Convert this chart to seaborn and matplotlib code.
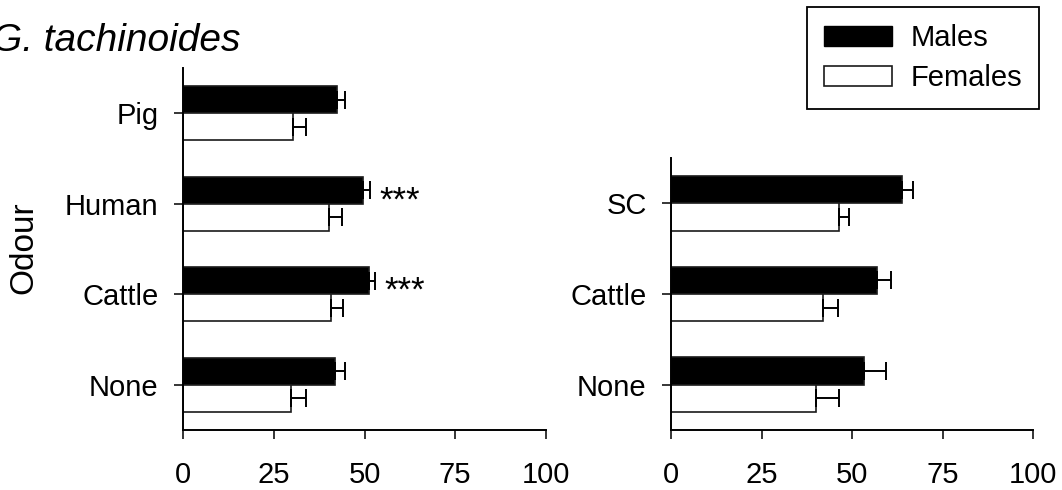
import matplotlib
matplotlib.use("Agg")
import matplotlib.pyplot as plt
from matplotlib.patches import Patch
import seaborn as sns
import pandas as pd

# ---------------- data ----------------
left_odours = ["Pig", "Human", "Cattle", "None"]
left_males = [42.5, 49.5, 51.2, 42.0]
left_males_err = [2.2, 2.1, 1.7, 2.7]
left_females = [30.4, 40.2, 40.7, 29.8]
left_females_err = [3.5, 3.5, 3.5, 4.0]
left_sig = ["", "***", "***", ""]

right_odours = ["SC", "Cattle", "None"]
right_males = [63.9, 56.9, 53.2]
right_males_err = [3.0, 3.9, 6.3]
right_females = [46.3, 41.9, 40.1]
right_females_err = [2.9, 4.2, 6.4]

sexes = ["Males", "Females"]
x_ticks = [0, 25, 50, 75, 100]
title_text = "G. tachinoides"
ylabel_text = "Odour"

# ---------------- style ----------------
sns.set_theme(style="ticks")
plt.rcParams["font.family"] = ["Liberation Sans", "DejaVu Sans"]
plt.rcParams["axes.edgecolor"] = "black"
plt.rcParams["text.color"] = "black"
plt.rcParams["axes.labelcolor"] = "black"
plt.rcParams["xtick.color"] = "black"
plt.rcParams["ytick.color"] = "black"

W, H = 1062, 490
fig = plt.figure(figsize=(W / 100, H / 100), dpi=100)


def fx(px):
    return px / W


def fy(py):
    return 1 - py / H


ax_l = fig.add_axes([fx(183), fy(430), fx(546) - fx(183), fy(68) - fy(430)])
ax_r = fig.add_axes([fx(671), fy(430), fx(1033) - fx(671), fy(158) - fy(430)])


def make_df(odours, males, females):
    return pd.DataFrame({
        "odour": odours * 2,
        "value": males + females,
        "sex": ["Males"] * len(odours) + ["Females"] * len(odours),
    })


def draw(ax, odours, males, males_err, females, females_err, sig=None):
    df = make_df(odours, males, females)
    sns.barplot(data=df, x="value", y="odour", hue="sex", hue_order=sexes,
                order=odours, palette=["black", "white"], orient="h",
                width=0.6, errorbar=None, edgecolor="0.1", linewidth=1.2,
                ax=ax, legend=False)
    for cont, errs in zip(ax.containers, [males_err, females_err]):
        for bar, e in zip(cont, errs):
            yc = bar.get_y() + bar.get_height() / 2
            xv = bar.get_width()
            ax.errorbar(xv, yc, xerr=[[0], [e]], fmt="none", ecolor="black",
                        elinewidth=1.4, capsize=6.5, capthick=1.4, zorder=3)
    if sig is not None:
        cont = ax.containers[0]
        for bar, e, s in zip(cont, males_err, sig):
            if s:
                yc = bar.get_y() + bar.get_height() / 2
                ax.annotate(s, xy=(bar.get_width() + e, yc), xytext=(6.5, -14.5),
                            textcoords="offset points", ha="left", va="baseline",
                            fontsize=25)
    ax.set_xlim(0, 100)
    ax.set_xticks(x_ticks)
    ax.set_xticklabels([str(t) for t in x_ticks])
    ax.set_ylim(len(odours) - 0.5, -0.5)
    ax.set_xlabel("")
    ax.set_ylabel("")
    for side in ["top", "right"]:
        ax.spines[side].set_visible(False)
    for side in ["left", "bottom"]:
        ax.spines[side].set_linewidth(1.4)
        ax.spines[side].set_color("black")
    ax.tick_params(axis="both", direction="out", length=6.5, width=1.1,
                   color="black", labelsize=21, labelcolor="black")
    ax.tick_params(axis="x", pad=15.5)
    ax.tick_params(axis="y", pad=11)
    ax.set_facecolor("white")


draw(ax_l, left_odours, left_males, left_males_err, left_females, left_females_err, left_sig)
draw(ax_r, right_odours, right_males, right_males_err, right_females, right_females_err)

fig.text(fx(-8), fy(50.7), title_text, fontsize=28, style="italic",
         ha="left", va="baseline")
fig.text(fx(24), fy(248), ylabel_text, fontsize=24, rotation=90,
         ha="center", va="center")

handles = [Patch(facecolor="black", edgecolor="black", linewidth=1.0),
           Patch(facecolor="white", edgecolor="0.1", linewidth=1.2)]
leg = fig.legend(handles=handles, labels=sexes, loc="upper right",
                 bbox_to_anchor=(fx(1039), fy(7)), frameon=True, fancybox=False,
                 edgecolor="black", framealpha=1, fontsize=21,
                 handlelength=2.35, handleheight=0.68, handletextpad=0.62,
                 borderpad=0.58, labelspacing=0.42, borderaxespad=0)
leg.get_frame().set_linewidth(1.3)

fig.savefig("out.png", dpi=100, facecolor="white")
